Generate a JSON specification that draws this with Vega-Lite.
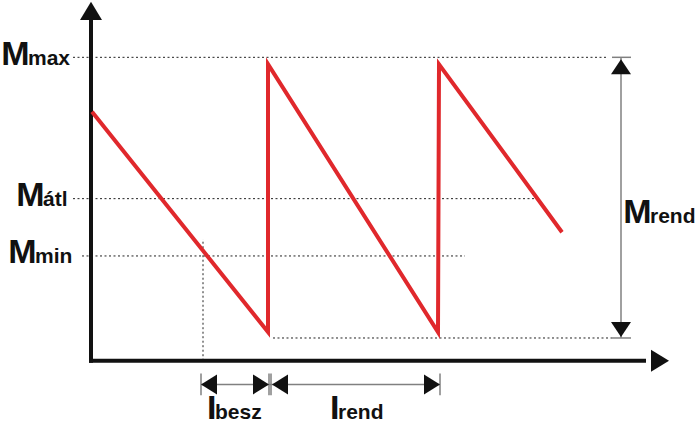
{
  "$schema": "https://vega.github.io/schema/vega-lite/v6.json",
  "width": 696,
  "height": 426,
  "autosize": {"type": "fit", "contains": "padding"},
  "padding": 0,
  "background": "white",
  "config": {"view": {"stroke": null}},
  "datasets": {
    "stock": [
      {"i": 0, "t": 1, "M": 252},
      {"i": 1, "t": 177, "M": 29},
      {"i": 2, "t": 177, "M": 300},
      {"i": 3, "t": 347, "M": 29},
      {"i": 4, "t": 348, "M": 300},
      {"i": 5, "t": 471, "M": 130}
    ],
    "guides": [
      {"name": "Mmax", "t": -18, "t2": 515, "M": 307, "M2": 307},
      {"name": "Matl", "t": -18, "t2": 444, "M": 164, "M2": 164},
      {"name": "Mmin", "t": -9, "t2": 374, "M": 106, "M2": 106},
      {"name": "Mbot", "t": 182, "t2": 521, "M": 23, "M2": 23},
      {"name": "tmin", "t": 112, "t2": 112, "M": 0, "M2": 123}
    ],
    "dims": [
      {"t": 530, "t2": 530, "M": 23, "M2": 307},
      {"t": 521, "t2": 540, "M": 307, "M2": 307},
      {"t": 521, "t2": 540, "M": 23, "M2": 23},
      {"t": 110, "t2": 349, "M": -24, "M2": -24},
      {"t": 110, "t2": 110, "M": -13, "M2": -35},
      {"t": 178, "t2": 178, "M": -13, "M2": -35},
      {"t": 180, "t2": 180, "M": -13, "M2": -35},
      {"t": 349, "t2": 349, "M": -13, "M2": -35}
    ],
    "axes": [
      {"t": 0, "t2": 0, "M": -2, "M2": 348},
      {"t": -2, "t2": 555, "M": 0, "M2": 0}
    ],
    "heads": [
      {"dir": "up", "t": 0, "M": 354},
      {"dir": "right", "t": 569, "M": 0}
    ],
    "dimheads": [
      {"dir": "up", "t": 530, "M": 297.5},
      {"dir": "down", "t": 530, "M": 31.5},
      {"dir": "left", "t": 118, "M": -24},
      {"dir": "right", "t": 170, "M": -24},
      {"dir": "left", "t": 189, "M": -24},
      {"dir": "right", "t": 341, "M": -24}
    ],
    "labels": [
      {"t": -63, "M": 299, "main": "M", "sub": "max"},
      {"t": -48, "M": 157, "main": "M", "sub": "átl"},
      {"t": -56, "M": 99, "main": "M", "sub": "min"},
      {"t": 559, "M": 139, "main": "M", "sub": "rend"},
      {"t": 124, "M": -59, "main": "I", "sub": "besz"},
      {"t": 247, "M": -59, "main": "I", "sub": "rend"}
    ]
  },
  "encoding": {
    "x": {"field": "t", "type": "quantitative", "scale": {"domain": [-91, 605], "nice": false, "zero": false}, "axis": null},
    "y": {"field": "M", "type": "quantitative", "scale": {"domain": [-61, 365], "nice": false, "zero": false}, "axis": null}
  },
  "layer": [
    {
      "data": {"name": "guides"},
      "mark": {"type": "rule", "stroke": "#222222", "strokeWidth": 1, "strokeDash": [2, 2.5]},
      "encoding": {"x2": {"field": "t2"}, "y2": {"field": "M2"}}
    },
    {
      "data": {"name": "dims"},
      "mark": {"type": "rule", "stroke": "#808080", "strokeWidth": 1.5},
      "encoding": {"x2": {"field": "t2"}, "y2": {"field": "M2"}}
    },
    {
      "data": {"name": "axes"},
      "mark": {"type": "rule", "stroke": "#111111", "strokeWidth": 4},
      "encoding": {"x2": {"field": "t2"}, "y2": {"field": "M2"}}
    },
    {
      "data": {"name": "heads"},
      "transform": [{"filter": "datum.dir === 'up'"}],
      "mark": {"type": "point", "shape": "M0,-0.82L1,0.82L-1,0.82Z", "filled": true, "color": "#111111", "size": 484, "opacity": 1}
    },
    {
      "data": {"name": "heads"},
      "transform": [{"filter": "datum.dir === 'right'"}],
      "mark": {"type": "point", "shape": "M0.82,0L-0.82,-1L-0.82,1Z", "filled": true, "color": "#111111", "size": 484, "opacity": 1}
    },
    {
      "data": {"name": "dimheads"},
      "transform": [{"filter": "datum.dir === 'up'"}],
      "mark": {"type": "point", "shape": "M0,-0.75L1,0.75L-1,0.75Z", "filled": true, "color": "#111111", "size": 400, "opacity": 1}
    },
    {
      "data": {"name": "dimheads"},
      "transform": [{"filter": "datum.dir === 'down'"}],
      "mark": {"type": "point", "shape": "M0,0.75L1,-0.75L-1,-0.75Z", "filled": true, "color": "#111111", "size": 400, "opacity": 1}
    },
    {
      "data": {"name": "dimheads"},
      "transform": [{"filter": "datum.dir === 'left'"}],
      "mark": {"type": "point", "shape": "M-0.8,0L0.8,-1L0.8,1Z", "filled": true, "color": "#111111", "size": 400, "opacity": 1}
    },
    {
      "data": {"name": "dimheads"},
      "transform": [{"filter": "datum.dir === 'right'"}],
      "mark": {"type": "point", "shape": "M0.8,0L-0.8,-1L-0.8,1Z", "filled": true, "color": "#111111", "size": 400, "opacity": 1}
    },
    {
      "data": {"name": "stock"},
      "mark": {"type": "line", "stroke": "#e0282c", "strokeWidth": 4, "strokeJoin": "miter", "strokeCap": "butt"},
      "encoding": {"order": {"field": "i", "type": "quantitative"}}
    },
    {
      "data": {"name": "labels"},
      "mark": {"type": "text", "align": "right", "baseline": "alphabetic", "font": "Liberation Sans", "fontWeight": "bold", "fontSize": 34, "color": "#111111", "dx": 1.5},
      "encoding": {"text": {"field": "main"}}
    },
    {
      "data": {"name": "labels"},
      "mark": {"type": "text", "align": "left", "baseline": "alphabetic", "font": "Liberation Sans", "fontWeight": "bold", "fontSize": 21, "color": "#111111"},
      "encoding": {"text": {"field": "sub"}}
    }
  ]
}
